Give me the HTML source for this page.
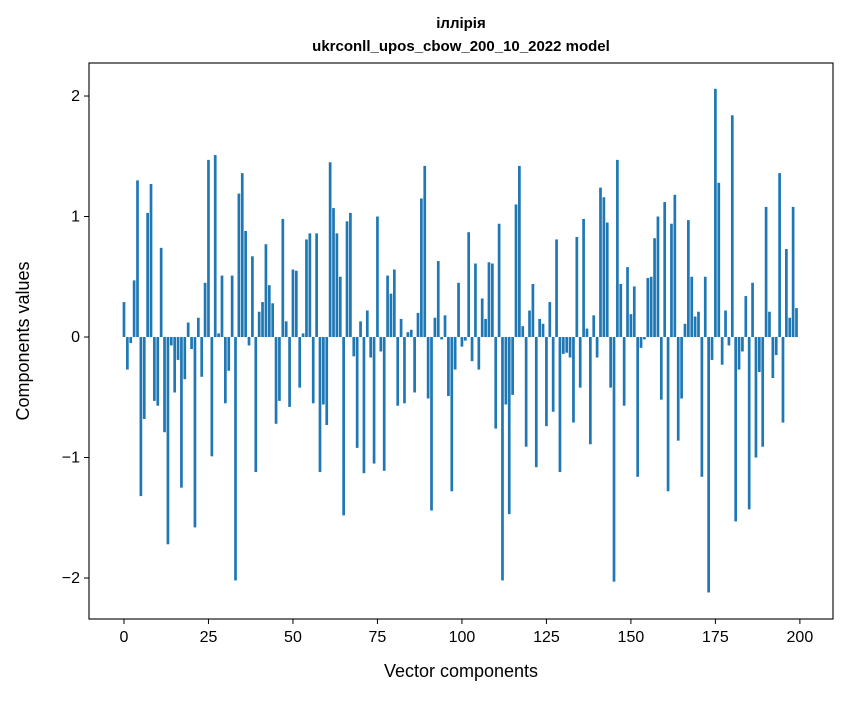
<!DOCTYPE html>
<html><head><meta charset="utf-8"><style>
body{margin:0;background:#fff;}
svg text{font-family:"Liberation Sans",DejaVu Sans,sans-serif;fill:#000;}
</style></head><body>
<svg id="chart" width="847" height="696" xmlns="http://www.w3.org/2000/svg">
<rect width="847" height="696" fill="#fff"/>
<text x="461" y="28" text-anchor="middle" font-size="15" font-weight="bold">іллірія</text>
<text x="461" y="51" text-anchor="middle" font-size="15" font-weight="bold">ukrconll_upos_cbow_200_10_2022 model</text>
<g id="bars"></g>
<g id="axes"></g>
<rect x="89" y="63" width="744" height="556" fill="none" stroke="#000" stroke-width="1.1"/>
<text x="461" y="677" text-anchor="middle" font-size="18">Vector components</text>
<text x="29" y="341" text-anchor="middle" font-size="18" transform="rotate(-90 29 341)">Components values</text>
</svg>
<script>
const values = [0.29,-0.27,-0.05,0.47,1.30,-1.32,-0.68,1.03,1.27,-0.53,-0.57,0.74,-0.79,-1.72,-0.07,-0.46,-0.19,-1.25,-0.35,0.12,
-0.10,-1.58,0.16,-0.33,0.45,1.47,-0.99,1.51,0.03,0.51,-0.55,-0.28,0.51,-2.02,1.19,1.36,0.88,-0.07,0.67,-1.12,
0.21,0.29,0.77,0.43,0.28,-0.72,-0.53,0.98,0.13,-0.58,0.56,0.55,-0.42,0.03,0.81,0.86,-0.55,0.86,-1.12,-0.56,
-0.73,1.45,1.07,0.86,0.50,-1.48,0.96,1.03,-0.16,-0.92,0.13,-1.13,0.22,-0.17,-1.05,1.00,-0.12,-1.11,0.51,0.36,
0.56,-0.57,0.15,-0.55,0.04,0.06,-0.46,0.20,1.15,1.42,-0.51,-1.44,0.16,0.63,-0.02,0.18,-0.49,-1.28,-0.27,0.45,
-0.08,-0.03,0.87,-0.20,0.61,-0.27,0.32,0.15,0.62,0.61,-0.76,0.94,-2.02,-0.56,-1.47,-0.48,1.10,1.42,0.09,-0.91,
0.22,0.44,-1.08,0.15,0.11,-0.74,0.29,-0.62,0.81,-1.12,-0.14,-0.13,-0.17,-0.71,0.83,-0.42,0.98,0.07,-0.89,0.18,
-0.17,1.24,1.16,0.95,-0.42,-2.03,1.47,0.44,-0.57,0.58,0.19,0.42,-1.16,-0.09,-0.02,0.49,0.50,0.82,1.00,-0.52,
1.12,-1.28,0.94,1.18,-0.86,-0.51,0.11,0.97,0.50,0.17,0.21,-1.16,0.50,-2.12,-0.19,2.06,1.28,-0.23,0.22,-0.07,
1.84,-1.53,-0.27,-0.12,0.34,-1.43,0.45,-1.00,-0.29,-0.91,1.08,0.21,-0.34,-0.15,1.36,-0.71,0.73,0.16,1.08,0.24];
const xTicks = [0,25,50,75,100,125,150,175,200];
const yTicks = [-2,-1,0,1,2];
const yTickLabels = ["\u22122","\u22121","0","1","2"];

const NS="http://www.w3.org/2000/svg";
const L=89,R=833,T=63,B=619;
const xMin=-10.35,xMax=209.8,yMin=-2.34,yMax=2.274;
function sx(v){return L+(v-xMin)/(xMax-xMin)*(R-L);}
function sy(v){return T+(yMax-v)/(yMax-yMin)*(B-T);}
const bars=document.getElementById('bars');
values.forEach((v,i)=>{
  const r=document.createElementNS(NS,'rect');
  const x0=sx(i-0.4),x1=sx(i+0.4);
  const y0=sy(Math.max(v,0)),y1=sy(Math.min(v,0));
  r.setAttribute('x',x0);r.setAttribute('width',x1-x0);
  r.setAttribute('y',y0);r.setAttribute('height',Math.max(y1-y0,0.3));
  r.setAttribute('fill','#1f77b4');
  
  
  bars.appendChild(r);
});
const axes=document.getElementById('axes');
xTicks.forEach(t=>{
  const x=sx(t);
  const l=document.createElementNS(NS,'line');
  l.setAttribute('x1',x);l.setAttribute('x2',x);l.setAttribute('y1',B);l.setAttribute('y2',B+5);
  l.setAttribute('stroke','#000');
  
  
  axes.appendChild(l);
  const tx=document.createElementNS(NS,'text');
  tx.setAttribute('x',x);tx.setAttribute('y',B+23);tx.setAttribute('text-anchor','middle');tx.setAttribute('font-size','16');
  tx.textContent=t;
  
  
  axes.appendChild(tx);
});
yTicks.forEach((t,i)=>{
  const y=sy(t);
  const l=document.createElementNS(NS,'line');
  l.setAttribute('x1',L-5);l.setAttribute('x2',L);l.setAttribute('y1',y);l.setAttribute('y2',y);
  l.setAttribute('stroke','#000');
  
  
  axes.appendChild(l);
  const tx=document.createElementNS(NS,'text');
  tx.setAttribute('x',L-9);tx.setAttribute('y',y+5);tx.setAttribute('text-anchor','end');tx.setAttribute('font-size','16');
  tx.textContent=yTickLabels[i];
  
  
  axes.appendChild(tx);
});
</script>
</body></html>
